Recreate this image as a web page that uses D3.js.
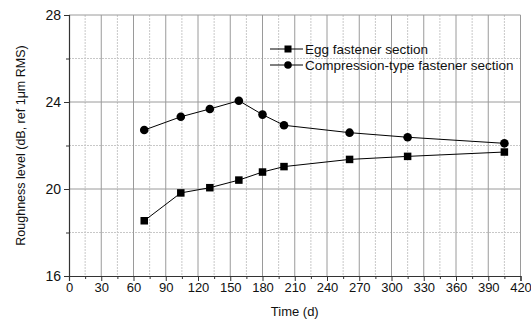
<!DOCTYPE html>
<html>
<head>
<meta charset="utf-8">
<script src="https://cdn.jsdelivr.net/npm/d3@7"></script>
<style>
  body { margin: 0; background: #fff; }
  svg { display: block; font-family: "Liberation Sans", Arial, sans-serif; }
</style>
</head>
<body>
<svg id="chart" width="531" height="324"></svg>
<script>
// Measurement days
const eggDays = [70, 104, 131, 158, 180, 200, 261, 315, 405];
const compDays = [70, 104, 131, 158, 180, 200, 261, 315, 405];
// Roughness levels, dB re 1 µm RMS
const eggLevels = [18.54, 19.82, 20.06, 20.41, 20.78, 21.03, 21.36, 21.50, 21.70];
const compLevels = [22.71, 23.32, 23.68, 24.06, 23.42, 22.93, 22.59, 22.38, 22.10];

const xMajorTicks = [0, 30, 60, 90, 120, 150, 180, 210, 240, 270, 300, 330, 360, 390, 420];
const xMinorTicks = [15, 45, 75, 105, 135, 165, 195, 225, 255, 285, 315, 345, 375, 405];
const yMajorTicks = [16, 20, 24, 28];
const yMinorTicks = [18, 22, 26];

const seriesNames = ["Egg fastener section", "Compression-type fastener section"];

const svg = d3.select("#chart");
const plotLeft = 69, plotRight = 520.5, plotTop = 15, plotBottom = 276;

const x = d3.scaleLinear().domain([0, 420]).range([plotLeft, plotRight]);
const y = d3.scaleLinear().domain([16, 28]).range([plotBottom, plotTop]);

// Grid lines
const grid = svg.append("g");
grid.selectAll(".vmin").data(xMinorTicks).join("line")
  .attr("x1", d => x(d)).attr("x2", d => x(d))
  .attr("y1", plotTop).attr("y2", plotBottom)
  .attr("stroke", "#c8c8c8").attr("stroke-width", 1).attr("stroke-dasharray", "2,1");
grid.selectAll(".hmin").data(yMinorTicks).join("line")
  .attr("x1", plotLeft).attr("x2", plotRight)
  .attr("y1", d => y(d)).attr("y2", d => y(d))
  .attr("stroke", "#c8c8c8").attr("stroke-width", 1).attr("stroke-dasharray", "2,1");
grid.selectAll(".vmaj").data(xMajorTicks.filter(d => d > 0)).join("line")
  .attr("x1", d => x(d)).attr("x2", d => x(d))
  .attr("y1", plotTop).attr("y2", plotBottom)
  .attr("stroke", "#9a9a9a").attr("stroke-width", 1);
grid.selectAll(".hmaj").data(yMajorTicks.filter(d => d > 16)).join("line")
  .attr("x1", plotLeft).attr("x2", plotRight)
  .attr("y1", d => y(d)).attr("y2", d => y(d))
  .attr("stroke", "#9a9a9a").attr("stroke-width", 1);

// Axes
const xAxis = svg.append("g").attr("transform", `translate(0,${plotBottom})`)
  .call(d3.axisBottom(x).tickValues(xMajorTicks).tickSize(5).tickPadding(2).tickFormat(d3.format("d")));
svg.append("g").attr("transform", `translate(0,${plotBottom})`)
  .call(d3.axisBottom(x).tickValues(xMinorTicks).tickSize(3).tickFormat(""))
  .select(".domain").remove();
const yAxis = svg.append("g").attr("transform", `translate(${plotLeft},0)`)
  .call(d3.axisLeft(y).tickValues(yMajorTicks).tickSize(5).tickPadding(3).tickFormat(d3.format("d")));
svg.append("g").attr("transform", `translate(${plotLeft},0)`)
  .call(d3.axisLeft(y).tickValues(yMinorTicks).tickSize(3).tickFormat(""))
  .select(".domain").remove();

svg.selectAll(".domain").attr("stroke", "#333").attr("stroke-width", 1.2);
svg.selectAll(".tick line").attr("stroke", "#333");
svg.selectAll(".tick text").attr("fill", "#111")
  .attr("font-family", "'Liberation Sans', Arial, sans-serif");
xAxis.selectAll(".tick text").attr("font-size", 13);
yAxis.selectAll(".tick text").attr("font-size", 14);

// Axis titles
svg.append("text")
  .attr("x", (plotLeft + plotRight) / 2).attr("y", 316)
  .attr("text-anchor", "middle").attr("font-size", 13).attr("fill", "#111")
  .text("Time (d)");
svg.append("text")
  .attr("transform", `translate(25,${(plotTop + plotBottom) / 2}) rotate(-90)`)
  .attr("text-anchor", "middle").attr("font-size", 12.5).attr("fill", "#111")
  .text("Roughness level (dB, ref 1μm RMS)");

// Series
const line = d3.line().x(d => x(d[0])).y(d => y(d[1]));
const eggData = eggDays.map((d, i) => [d, eggLevels[i]]);
const compData = compDays.map((d, i) => [d, compLevels[i]]);

svg.append("path").datum(eggData).attr("d", line)
  .attr("fill", "none").attr("stroke", "#000").attr("stroke-width", 1);
svg.append("path").datum(compData).attr("d", line)
  .attr("fill", "none").attr("stroke", "#000").attr("stroke-width", 1);

const sq = 7.5;
svg.selectAll(".sq").data(eggData).join("rect")
  .attr("x", d => x(d[0]) - sq / 2).attr("y", d => y(d[1]) - sq / 2)
  .attr("width", sq).attr("height", sq).attr("fill", "#000");
svg.selectAll(".ci").data(compData).join("circle")
  .attr("cx", d => x(d[0])).attr("cy", d => y(d[1])).attr("r", 4.3).attr("fill", "#000");

// Legend
const legend = svg.append("g");
const ly = [49, 65];
ly.forEach((yy, i) => {
  legend.append("line").attr("x1", 270).attr("x2", 303).attr("y1", yy).attr("y2", yy)
    .attr("stroke", "#000").attr("stroke-width", 1);
  if (i === 0) {
    legend.append("rect").attr("x", 288 - 3.5).attr("y", yy - 3.5).attr("width", 7).attr("height", 7).attr("fill", "#000");
  } else {
    legend.append("circle").attr("cx", 288).attr("cy", yy).attr("r", 3.8).attr("fill", "#000");
  }
  legend.append("text").attr("x", 305).attr("y", yy).attr("dy", "0.35em")
    .attr("font-size", 13.5).attr("fill", "#111").text(seriesNames[i]);
});
</script>
</body>
</html>
